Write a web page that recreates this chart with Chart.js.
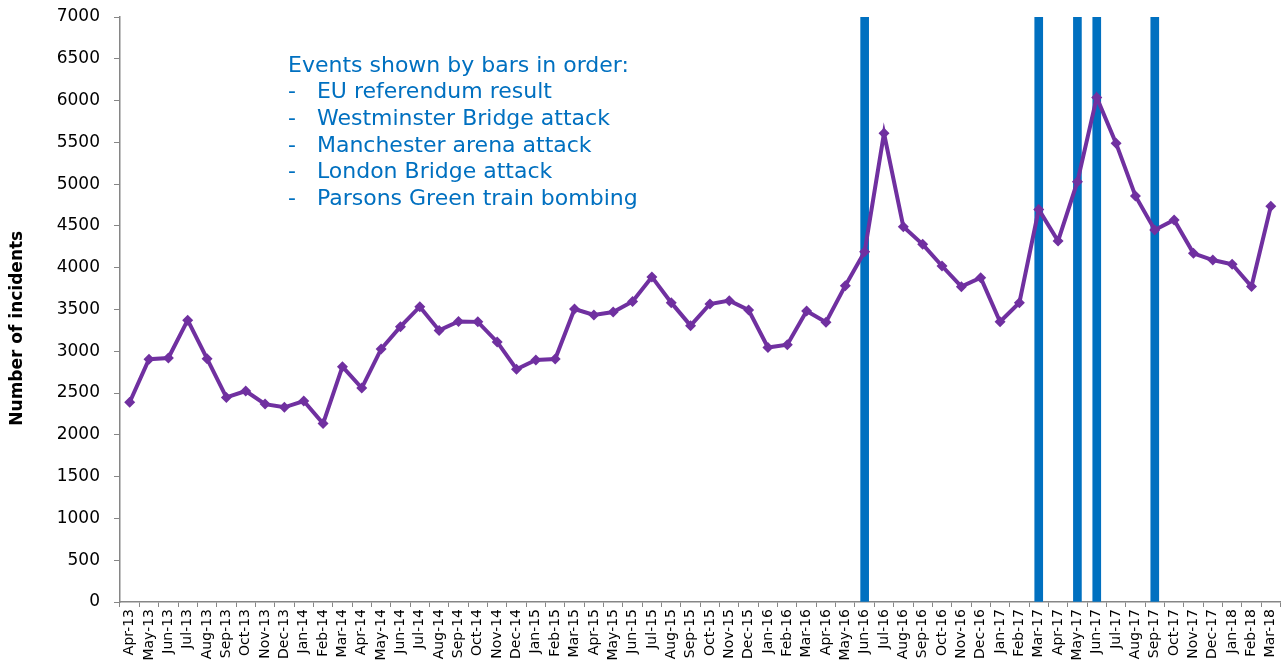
<!DOCTYPE html>
<html>
<head>
<meta charset="utf-8">
<script src="https://cdn.jsdelivr.net/npm/chart.js@4"></script>
<style>
  html, body { margin: 0; padding: 0; background: #fff; }
  #wrap { width: 1286px; height: 671px; }
</style>
</head>
<body>
<div id="wrap"><canvas id="grafico"></canvas></div>
<script>
// months Apr-13 .. Mar-18
const meses = [
  'Apr-13','May-13','Jun-13','Jul-13','Aug-13','Sep-13','Oct-13','Nov-13','Dec-13',
  'Jan-14','Feb-14','Mar-14','Apr-14','May-14','Jun-14','Jul-14','Aug-14','Sep-14','Oct-14','Nov-14','Dec-14',
  'Jan-15','Feb-15','Mar-15','Apr-15','May-15','Jun-15','Jul-15','Aug-15','Sep-15','Oct-15','Nov-15','Dec-15',
  'Jan-16','Feb-16','Mar-16','Apr-16','May-16','Jun-16','Jul-16','Aug-16','Sep-16','Oct-16','Nov-16','Dec-16',
  'Jan-17','Feb-17','Mar-17','Apr-17','May-17','Jun-17','Jul-17','Aug-17','Sep-17','Oct-17','Nov-17','Dec-17',
  'Jan-18','Feb-18','Mar-18'
];

const incidentes = [
  2390, 2905, 2920, 3372, 2912, 2448, 2525, 2368, 2330,
  2405, 2135, 2816, 2560, 3027, 3295, 3534, 3250, 3356, 3352, 3112, 2785,
  2896, 2908, 3506, 3434, 3470, 3596, 3890, 3582, 3307, 3566, 3606, 3494,
  3045, 3078, 3482, 3348, 3785, 4192, 5608, 4490, 4280, 4021, 3773, 3880,
  3354, 3582, 4698, 4320, 5030, 6038, 5488, 4858, 4452, 4572, 4172, 4092,
  4041, 3775, 4736
];

// event bars (EU referendum, Westminster, Manchester, London Bridge, Parsons Green)
const mesesEventos = ['Jun-16', 'Mar-17', 'May-17', 'Jun-17', 'Sep-17'];
const alturaEvento = 7000;

const textoEventos = [
  'Events shown by bars in order:',
  '-   EU referendum result',
  '-   Westminster Bridge attack',
  '-   Manchester arena attack',
  '-   London Bridge attack',
  '-   Parsons Green train bombing'
];

const tituloY = 'Number of incidents';

const eixoY = { min: 0, max: 7000, passo: 500 };

const barrasEventos = meses.map(m => mesesEventos.includes(m) ? alturaEvento : null);

const textosExtra = {
  id: 'textosExtra',
  afterDraw(chart) {
    const ctx = chart.ctx;
    const area = chart.chartArea;
    ctx.save();
    ctx.fillStyle = '#0070C0';
    ctx.font = '22px "DejaVu Sans", Verdana, sans-serif';
    ctx.textBaseline = 'middle';
    ctx.textAlign = 'left';
    textoEventos.forEach((t, i) => {
      ctx.fillText(t, area.left + 168, area.top + 49 + i * 26.6);
    });
    ctx.restore();

    // y axis title, sits a bit below the middle like the original
    ctx.save();
    ctx.translate(18, area.top + (area.bottom - area.top) * 0.532);
    ctx.rotate(-Math.PI / 2);
    ctx.fillStyle = '#000';
    ctx.font = 'bold 17px "DejaVu Sans", Verdana, sans-serif';
    ctx.textAlign = 'center';
    ctx.textBaseline = 'middle';
    ctx.fillText(tituloY, 0, 0);
    ctx.restore();
  }
};

const ctx = document.getElementById('grafico');

new Chart(ctx, {
  data: {
    labels: meses,
    datasets: [
      {
        type: 'line',
        label: 'Incidents',
        data: incidentes,
        borderColor: '#7030A0',
        backgroundColor: '#7030A0',
        borderWidth: 4,
        pointStyle: 'rectRot',
        pointRadius: 5.5,
        pointBorderWidth: 0,
        tension: 0,
        order: 0
      },
      {
        type: 'bar',
        label: 'Events',
        data: barrasEventos,
        backgroundColor: '#0070C0',
        barThickness: 8,
        order: 1
      }
    ]
  },
  options: {
    responsive: true,
    maintainAspectRatio: false,
    animation: false,
    layout: { padding: { top: 17, right: 4, bottom: 0, left: 0 } },
    plugins: {
      legend: { display: false },
      tooltip: { enabled: false }
    },
    scales: {
      x: {
        offset: true,
        afterFit(scale) {
          scale.height = 69;
          scale.paddingRight = 0;
          scale.paddingLeft = 0;
        },
        grid: {
          offset: true,
          drawOnChartArea: false,
          drawTicks: true,
          tickLength: 5,
          color: '#868686'
        },
        border: { color: '#868686', width: 1.5 },
        ticks: {
          autoSkip: false,
          maxRotation: 90,
          minRotation: 90,
          padding: 2,
          color: '#000',
          font: { family: '"DejaVu Sans", Verdana, sans-serif', size: 14 }
        }
      },
      y: {
        min: eixoY.min,
        max: eixoY.max,
        afterFit(scale) {
          scale.width = 120;
          scale.paddingTop = 0;
          scale.paddingBottom = 0;
        },
        grid: {
          drawOnChartArea: false,
          drawTicks: true,
          tickLength: 6,
          color: '#868686'
        },
        border: { color: '#868686', width: 1.5 },
        ticks: {
          stepSize: eixoY.passo,
          padding: 14,
          color: '#000',
          callback: v => String(v),
          font: { family: '"DejaVu Sans", Verdana, sans-serif', size: 17 }
        }
      }
    }
  },
  plugins: [textosExtra]
});
</script>
</body>
</html>
